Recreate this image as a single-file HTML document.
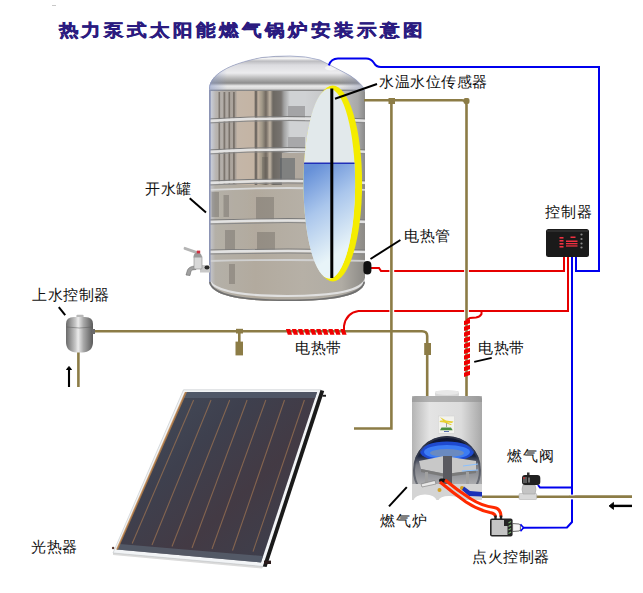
<!DOCTYPE html>
<html><head><meta charset="utf-8">
<style>
html,body{margin:0;padding:0;background:#fff;}
body{width:643px;height:593px;overflow:hidden;position:relative;font-family:"Liberation Sans",sans-serif;}
svg{position:absolute;left:0;top:0;}
.t{font-family:"Liberation Sans",sans-serif;font-size:15px;fill:#111;letter-spacing:0.5px;}
.title{font-family:"Liberation Sans",sans-serif;font-size:17.5px;font-weight:bold;fill:#2b1b80;stroke:#2b1b80;stroke-width:0.45px;letter-spacing:2.35px;}
</style></head>
<body>
<svg width="643" height="593" viewBox="0 0 643 593">
<defs>
  <linearGradient id="tankG" gradientUnits="userSpaceOnUse" x1="209" x2="365" y1="0" y2="0">
    <stop offset="0.000" stop-color="#7888c0"/>
    <stop offset="0.013" stop-color="#c8ccd8"/>
    <stop offset="0.045" stop-color="#b8b4b0"/>
    <stop offset="0.173" stop-color="#a8a098"/>
    <stop offset="0.179" stop-color="#c4b6a8"/>
    <stop offset="0.288" stop-color="#c4b4a4"/>
    <stop offset="0.301" stop-color="#585450"/>
    <stop offset="0.314" stop-color="#c0b0a0"/>
    <stop offset="0.340" stop-color="#a09888"/>
    <stop offset="0.365" stop-color="#706860"/>
    <stop offset="0.391" stop-color="#c0b4a4"/>
    <stop offset="0.410" stop-color="#6c6862"/>
    <stop offset="0.462" stop-color="#787470"/>
    <stop offset="0.481" stop-color="#a0a0a0"/>
    <stop offset="0.519" stop-color="#d0d2d4"/>
    <stop offset="0.615" stop-color="#d0d2d4"/>
    <stop offset="0.840" stop-color="#c0c0c0"/>
    <stop offset="0.955" stop-color="#a8a8a8"/>
    <stop offset="1.000" stop-color="#8a8a8a"/>
  </linearGradient>
  <linearGradient id="domeG" gradientUnits="userSpaceOnUse" x1="0" x2="0" y1="55" y2="91">
    <stop offset="0" stop-color="#d0d0d4"/>
    <stop offset="0.1" stop-color="#f4f4f4"/>
    <stop offset="0.17" stop-color="#bcbcc0"/>
    <stop offset="0.28" stop-color="#dcdce0"/>
    <stop offset="0.5" stop-color="#ececee"/>
    <stop offset="0.66" stop-color="#b4b4b4"/>
    <stop offset="0.78" stop-color="#8c8c8c"/>
    <stop offset="0.86" stop-color="#eaeaea"/>
    <stop offset="0.94" stop-color="#d8d8d8"/>
    <stop offset="1" stop-color="#707070"/>
  </linearGradient>
  <linearGradient id="waterG" gradientUnits="userSpaceOnUse" x1="302" y1="175" x2="350" y2="245">
    <stop offset="0" stop-color="#6690d8"/>
    <stop offset="0.45" stop-color="#aac6ec"/>
    <stop offset="1" stop-color="#e8f4f8"/>
  </linearGradient>
  <linearGradient id="floatG" x1="0" x2="1" y1="0" y2="0">
    <stop offset="0" stop-color="#6a6a6a"/>
    <stop offset="0.35" stop-color="#c8c8c8"/>
    <stop offset="0.45" stop-color="#ececec"/>
    <stop offset="0.65" stop-color="#a8a8a8"/>
    <stop offset="1" stop-color="#5a5a5a"/>
  </linearGradient>
  <linearGradient id="boilerG" x1="0" x2="1" y1="0" y2="0">
    <stop offset="0" stop-color="#b4b4b4"/>
    <stop offset="0.25" stop-color="#e4e4e4"/>
    <stop offset="0.7" stop-color="#dcdcdc"/>
    <stop offset="1" stop-color="#a8a8a8"/>
  </linearGradient>
  <linearGradient id="panelG" gradientUnits="userSpaceOnUse" x1="150" y1="400" x2="300" y2="560">
    <stop offset="0" stop-color="#434a58"/>
    <stop offset="0.3" stop-color="#3e404e"/>
    <stop offset="0.6" stop-color="#433a44"/>
    <stop offset="1" stop-color="#3c404e"/>
  </linearGradient>
  <linearGradient id="chamberG" x1="0" x2="0" y1="0" y2="1">
    <stop offset="0" stop-color="#0c1230"/>
    <stop offset="0.35" stop-color="#1a2440"/>
    <stop offset="0.5" stop-color="#7a7c84"/>
    <stop offset="1" stop-color="#c8c8c8"/>
  </linearGradient>
  <linearGradient id="edgeL" x1="0" x2="1" y1="0" y2="0">
    <stop offset="0" stop-color="#8a9ac8" stop-opacity="0.7"/>
    <stop offset="1" stop-color="#8a9ac8" stop-opacity="0"/>
  </linearGradient>
  <linearGradient id="edgeR" x1="0" x2="1" y1="0" y2="0">
    <stop offset="0" stop-color="#8890b0" stop-opacity="0"/>
    <stop offset="1" stop-color="#8890b0" stop-opacity="0.6"/>
  </linearGradient>
  <linearGradient id="tankLow" gradientUnits="userSpaceOnUse" x1="209" x2="365" y1="0" y2="0">
    <stop offset="0" stop-color="#c8cad4"/>
    <stop offset="0.04" stop-color="#b4b0a8"/>
    <stop offset="0.3" stop-color="#b2aa9e"/>
    <stop offset="0.6" stop-color="#b6b0a6"/>
    <stop offset="0.85" stop-color="#b0aca4"/>
    <stop offset="1" stop-color="#8c8a86"/>
  </linearGradient>
  <clipPath id="ellClip"><ellipse cx="329.3" cy="183.6" rx="25.8" ry="95"/></clipPath>
  <clipPath id="tankClip"><path d="M209,90 C209,75 228,64 262,57.5 Q275,56 290,56 Q306,56 320,60 L343,71.8 Q358,79 364.5,90 L365,92 L365,282 C362,299 320,301 287,301 C255,301 212,299 209,282 Z"/></clipPath>
</defs>

<!-- Title -->
<rect x="52" y="5" width="4" height="1" fill="#c8c8c8"/>
<text class="title" transform="translate(58.5,36) scale(1.15,1)" x="0" y="0">热力泵式太阳能燃气锅炉安装示意图</text>

<!-- Tank -->
<g id="tank">
  <g clip-path="url(#tankClip)">
    <rect x="205" y="50" width="165" height="260" fill="url(#tankG)"/>
    <rect x="205" y="50" width="165" height="41" fill="url(#domeG)"/>
    <rect x="205" y="50" width="22" height="41" fill="url(#edgeL)"/>
    <rect x="340" y="50" width="27" height="41" fill="url(#edgeR)"/>
    <ellipse cx="331" cy="68" rx="6" ry="2.5" fill="#f8f8f8" opacity="0.8"/>
    <!-- reflections -->
    <g fill="#5a524a" opacity="0.6">
      <rect x="218.5" y="92" width="1.6" height="92"/>
      <rect x="223.5" y="92" width="1.8" height="92"/>
      <rect x="228.5" y="92" width="1.6" height="92"/>
      <rect x="233" y="92" width="1.8" height="92"/>
    </g>
    <rect x="288" y="106" width="17" height="15" fill="#a4a4a6"/>
    <rect x="288" y="137" width="17" height="14" fill="#a8a8aa"/>
    <rect x="282" y="153" width="24" height="32" fill="#b0a89e"/>
    <rect x="280" y="158" width="15" height="22" fill="#5a6068" opacity="0.55"/>
    <rect x="262" y="157" width="6" height="24" fill="#5a5650" opacity="0.35"/>
    <!-- lower sections -->
    <rect x="209" y="185" width="160" height="120" fill="url(#tankLow)"/>
    <g fill="#4a4640" opacity="0.28">
      <rect x="211.5" y="192" width="7.5" height="25"/>
      <rect x="223.5" y="195" width="5.5" height="22"/>
      <rect x="256" y="197" width="18" height="25"/>
      <rect x="225" y="230" width="10" height="20"/>
      <rect x="257" y="232" width="18" height="20"/>
      <rect x="229" y="264" width="6" height="20"/>
    </g>
    <!-- rings -->
    <g fill="none">
      <path d="M208,119 Q288,114 368,119" stroke="#7a7a7a" stroke-width="1"/>
      <path d="M208,121 Q288,116 368,121" stroke="#e2e2e2" stroke-width="2.6"/>
      <path d="M208,123 Q288,118 368,123" stroke="#888888" stroke-width="1"/>
      <path d="M208,150 Q288,145 368,150" stroke="#7a7a7a" stroke-width="1"/>
      <path d="M208,152 Q288,147 368,152" stroke="#e2e2e2" stroke-width="2.6"/>
      <path d="M208,154 Q288,149 368,154" stroke="#888888" stroke-width="1"/>
      <path d="M208,181 Q288,177 368,181" stroke="#7a7a7a" stroke-width="1"/>
      <path d="M208,183 Q288,179 368,183" stroke="#e2e2e2" stroke-width="2.6"/>
      <path d="M208,185 Q288,181 368,185" stroke="#888888" stroke-width="1"/>
      <path d="M208,220 Q288,217 368,220" stroke="#7a7a7a" stroke-width="1"/>
      <path d="M208,222 Q288,219 368,222" stroke="#e2e2e2" stroke-width="2.6"/>
      <path d="M208,224 Q288,221 368,224" stroke="#888888" stroke-width="1"/>
      <path d="M208,250 Q288,248 368,250" stroke="#7a7a7a" stroke-width="1"/>
      <path d="M208,252 Q288,250 368,252" stroke="#e2e2e2" stroke-width="2.6"/>
      <path d="M208,254 Q288,252 368,254" stroke="#888888" stroke-width="1"/>
      <path d="M208,190 Q288,186 368,190" stroke="#d8d8d8" stroke-width="1.8"/>
      <path d="M208,261 Q288,259 368,261" stroke="#d0d0d0" stroke-width="1.8"/>
      <path d="M208,278 C212,294 255,296 287,296 C320,296 362,294 366,278" stroke="#e0e0e0" stroke-width="2.2"/>
      <path d="M208,282 C212,300 255,302 287,302 C320,302 362,300 366,282" stroke="#707070" stroke-width="5"/>
    </g>
    <path d="M209.8,90 L209.8,282" stroke="#8c94b4" stroke-width="1.6"/>
  </g>
  <path d="M209.5,89 C209.5,75 228,64 262,57.5 Q275,56 290,56 Q306,56 320,60 L343,71.8 Q358,79 364.5,89" fill="none" stroke="#8a96c0" stroke-width="0.8" opacity="0.8"/>
  <!-- faucet -->
  <path d="M184.5,246.8 L199.5,252 L198.5,254.8 L183.8,249.6 Q183,248 184.5,246.8 Z" fill="#b4b4b4"/>
  <path d="M195,266 Q189,266.5 187.5,270 L186,275 L190,275.5 L191,271 Q192,269.5 196,269.5 Z" fill="#a0a0a0" stroke="#6a6a6a" stroke-width="0.6"/>
  <rect x="200" y="265" width="10" height="7.5" fill="#c8c8c8"/>
  <ellipse cx="207" cy="267.5" rx="2.5" ry="2" fill="#2a2a2a"/>
  <rect x="194" y="256" width="8" height="13" rx="1" fill="#d8d8d8" stroke="#8a8a8a" stroke-width="0.6"/>
  <path d="M193.5,257.5 Q193.5,252.5 197.5,252.5 Q201.8,252.5 201.8,257.5 Z" fill="#9a9a9a"/>
  <rect x="196.8" y="250.6" width="3.4" height="2.8" fill="#d03040"/>
</g>

<!-- sensor ellipse -->
<g id="sensor">
  <ellipse cx="332.8" cy="183.5" rx="29.3" ry="98" fill="#f4ec00"/>
  <ellipse cx="329.3" cy="183.6" rx="25.8" ry="95" fill="#e2e9eb"/>
  <rect x="300" y="163" width="60" height="120" fill="url(#waterG)" clip-path="url(#ellClip)"/>
  <line x1="300" y1="163.3" x2="360" y2="163.3" stroke="#2030b8" stroke-width="1.5" clip-path="url(#ellClip)"/>
  <line x1="331.8" y1="88.5" x2="331.8" y2="278" stroke="#000" stroke-width="3"/>
</g>

<!-- red wires (under pipes) -->
<g fill="none" stroke="#e60000" stroke-width="2">
  <path d="M371,268 L379,268 L381,271 L564,271 L564,257"/>
  <path d="M344,330 L344,326 Q346,313 358.5,311 L568,311 L568,257"/>
</g>
<g fill="#fff">
  <rect x="389.4" y="269" width="4.8" height="4"/>
  <rect x="464.1" y="269" width="4.8" height="4"/>
  <rect x="389.4" y="309" width="4.8" height="4"/>
  <rect x="464.1" y="309" width="4.8" height="4"/>
</g>
<!-- pipes -->
<g fill="none" stroke="#8c7c46" stroke-width="2.6">
  <path d="M364,100.3 L462,100.3 Q466.5,100.3 466.5,105 L466.5,396"/>
  <path d="M391.4,100.3 L391.4,428.5 L354,428.5"/>
  <path d="M93,331.3 L422,331.3 Q427.2,331.3 427.2,336 L427.2,396"/>
  <path d="M78.4,351 L78.4,387"/>
  <path d="M481,496.7 L632,496.7"/>
</g>
<rect x="388.5" y="98" width="6.5" height="6" fill="#8c7c46"/>
<rect x="463.5" y="98" width="6" height="6" rx="2" fill="#8c7c46"/>
<rect x="236" y="328.8" width="7" height="4.7" fill="#8c7c46"/>
<rect x="238" y="333" width="2.6" height="9" fill="#8c7c46"/>
<rect x="235.5" y="341.6" width="7.5" height="13.8" fill="#8c7c46"/>
<rect x="424.2" y="343" width="6.8" height="12" fill="#8c7c46"/>

<!-- red wires -->
<path d="M481.5,311 L481.5,314 Q480,317 476,317.5 L470,318 L466.5,320" fill="none" stroke="#e60000" stroke-width="2"/>

<path d="M285.9,329 L290.2,329 L292.1,334.8 L287.8,334.8 Z M291.9,329 L296.2,329 L298.1,334.8 L293.8,334.8 Z M298.0,329 L302.3,329 L304.2,334.8 L299.9,334.8 Z M304.1,329 L308.4,329 L310.2,334.8 L305.9,334.8 Z M310.1,329 L314.4,329 L316.3,334.8 L312.0,334.8 Z M316.2,329 L320.5,329 L322.4,334.8 L318.1,334.8 Z M322.2,329 L326.5,329 L328.4,334.8 L324.1,334.8 Z M328.3,329 L332.6,329 L334.5,334.8 L330.2,334.8 Z M334.3,329 L338.6,329 L340.5,334.8 L336.2,334.8 Z M340.4,329 L344.7,329 L346.6,334.8 L342.3,334.8 Z" fill="#f00000"/>
<path d="M464,321.0 L470,319.0 L470,323.2 L464,325.2 Z M464,326.8 L470,324.8 L470,328.9 L464,330.9 Z M464,332.5 L470,330.5 L470,334.7 L464,336.7 Z M464,338.2 L470,336.2 L470,340.4 L464,342.4 Z M464,344.0 L470,342.0 L470,346.2 L464,348.2 Z M464,349.8 L470,347.8 L470,351.9 L464,353.9 Z M464,355.5 L470,353.5 L470,357.7 L464,359.7 Z M464,361.2 L470,359.2 L470,363.4 L464,365.4 Z M464,367.0 L470,365.0 L470,369.2 L464,371.2 Z M464,372.8 L470,370.8 L470,374.9 L464,376.9 Z" fill="#f00000"/>
<!-- black pill -->
<rect x="363.4" y="261" width="8" height="13.5" rx="4" fill="#111"/>

<!-- blue wires -->
<g fill="none" stroke="#0000ee" stroke-width="2">
  <path d="M328.8,65.4 Q331,58.4 338,58.4 L366,58.4 Q371,58.4 374,63 Q376,67 381,67 L599,67 L599,271 L576,271 L576,257"/>
  <path d="M572,257 L572,522 L567,527.5 L523,527.8"/>
  <path d="M572,487.5 L540,487.5 L538,485"/>
</g>

<!-- controller -->
<rect x="546" y="229" width="43" height="28" rx="2.5" fill="#1a1a1a"/>
<rect x="547" y="230" width="41" height="2" fill="#3a3a3a" opacity="0.6"/>
<g fill="#f03040">
  <rect x="559.5" y="237" width="4" height="1.6"/>
  <rect x="559.5" y="240" width="4" height="1.6"/>
  <rect x="559.5" y="243" width="4" height="1.6"/>
  <rect x="559.5" y="246" width="4" height="1.6"/>
  <rect x="570.5" y="236.5" width="5" height="1.5"/>
  <rect x="566" y="240.5" width="11.5" height="1.5"/>
  <rect x="566" y="243" width="11.5" height="1.3"/>
  <rect x="566" y="245.3" width="11.5" height="1.3"/>
</g>
<g fill="#8a8a8a">
  <circle cx="581.5" cy="234.5" r="1.1"/>
  <circle cx="581.5" cy="239" r="1.1"/>
  <circle cx="581.5" cy="243.5" r="1.1"/>
  <circle cx="581.5" cy="247.5" r="1.1"/>
</g>

<!-- float valve -->
<rect x="76.4" y="314.7" width="7.2" height="4" rx="1" fill="#b8b8b8"/>
<path d="M66,324 Q66,317 74,317 L85,317 Q93,317 93,324 L93,342 Q93,352 82,352.5 L77,352.5 Q66,352 66,342 Z" fill="url(#floatG)"/>
<path d="M66.5,327 Q79.5,329 92.5,327" stroke="#5a5a5a" stroke-width="0.7" fill="none" opacity="0.7"/>
<rect x="92" y="329" width="3" height="5" fill="#6a6a6a"/>
<!-- arrows -->
<path d="M69,387 L69,369" stroke="#000" stroke-width="2.1"/>
<path d="M66.5,369.5 L69,366.5 L71.5,369.5 Z" fill="#000" stroke="#000" stroke-width="1" stroke-linejoin="round"/>
<path d="M632,505.9 L612,505.9" stroke="#000" stroke-width="2.4"/>
<path d="M613.5,502.4 L609,505.9 L613.5,509.4 Z" fill="#000" stroke="#000" stroke-width="0.8" stroke-linejoin="round"/>

<!-- solar panel -->
<path d="M183.5,389.8 L321,389.8 L263.5,566.5 L113,553 Z" fill="#f2f4f6" stroke="#c0c4c8" stroke-width="0.6"/>
<path d="M320.5,390 L324.2,391 L266.6,567 L262.8,566.5 Z" fill="#1a1a1a"/>
<rect x="322.4" y="394.8" width="3.6" height="1.9" fill="#1a1a1a"/>
<rect x="264" y="560.6" width="7" height="3.4" fill="#2a1a1a"/>
<circle cx="113.1" cy="548" r="1.2" fill="#5a3a30"/>
<path d="M113,553 L263.5,566.5 L262,568.5 L113,555 Z" fill="#b8b8b8" opacity="0.5"/>
<path d="M185.5,392 L317.1,392 L261,562.5 L116.8,549.5 Z" fill="url(#panelG)"/>
<path d="M185.5,392 L317.1,392 L315.2,398 L182.7,398 Z" fill="#566070" opacity="0.7"/>
<path d="M119.5,544 L262.8,556 L261,562.5 L116.8,549.5 Z" fill="#5e6876" opacity="0.65"/>
<path d="M184.8,392 L187,392 L118,549.5 L116,549.5 Z" fill="#c88848" opacity="0.75"/>
<g stroke="#9a7252" stroke-width="1.1" opacity="0.75">
  <line x1="193.6" y1="400" x2="132.2" y2="543.5"/>
  <line x1="211" y1="400" x2="152" y2="545"/>
  <line x1="229.7" y1="400" x2="172" y2="546.5"/>
  <line x1="247.1" y1="400" x2="192" y2="548"/>
  <line x1="265.8" y1="400" x2="212" y2="549"/>
  <line x1="284.5" y1="400" x2="232.5" y2="550.5"/>
  <line x1="304.4" y1="400" x2="253" y2="551.6"/>
</g>

<!-- boiler -->
<rect x="435" y="391" width="24" height="6" rx="2" fill="#d8d8d8"/>
<path d="M412,399 Q412,396 416,396 L478,396 Q482,396 482,399 L482,500 L412,500 Z" fill="url(#boilerG)"/>
<rect x="412" y="396" width="70" height="6" fill="#909090" opacity="0.6"/>
<ellipse cx="447" cy="392.5" rx="12" ry="2.5" fill="#e8e8e8"/>
<rect x="438.3" y="416" width="16.2" height="17.3" fill="#f2f2ee" stroke="#d0d0d0" stroke-width="0.5"/>
<path d="M440,417 L446,420.5 L453.5,421.5 L452,423 L447,422.5 L452,424.5 L450.5,425 L444,422.5 L439.5,422 L440.5,420.5 L443,420.5 Z" fill="#e6d030"/>
<rect x="446" y="423" width="1" height="4" fill="#a0a0a0"/>
<path d="M440,430.3 L441.5,427.5 L451,427.5 L452.7,430.3 Z" fill="#4a9040"/>
<rect x="444" y="431" width="5" height="1" fill="#5a70b0"/>
<clipPath id="boilClip"><path d="M413,470 A34,34 0 0 1 481,470 L481,488 L413,488 Z"/></clipPath>
<g clip-path="url(#boilClip)">
  <rect x="410" y="435" width="75" height="60" fill="url(#chamberG)"/>
  <ellipse cx="447" cy="451.5" rx="27" ry="10" fill="#1e4ad0"/>
  <ellipse cx="447" cy="452" rx="23" ry="7" fill="#3c7cf4"/>
  <ellipse cx="447" cy="453" rx="17" ry="4" fill="#6a8ac0"/>
  <path d="M419,461 L444,456 L476,461 L476,470 L446,474 L421,469 Z" fill="#c8c8c8"/>
  <path d="M421,469 L446,474 L476,470 L476,473 L446,477 L421,472 Z" fill="#7a7a7a"/>
  <rect x="443" y="456" width="9" height="28" fill="#5a5a60"/>
  <rect x="425" y="472" width="3" height="14" fill="#a0a0a0"/>
  <rect x="466" y="472" width="3" height="14" fill="#a0a0a0"/>
  <path d="M463,466 L478,464 M462,471 L478,470" stroke="#8ac0ff" stroke-width="1.2"/>
  <circle cx="447" cy="470" r="33" fill="none" stroke="#404450" stroke-width="2" opacity="0.6"/>
</g>
<path d="M412,484 L482,484 L482,500 L412,500 Z" fill="#d4d4d4"/>
<path d="M413,501 Q415,494.5 425,494.5 Q435,494.5 437,501 Z M438,501 Q440,496 449,496 Q459,496 461,501 Z" fill="#ffffff"/>
<path d="M421,484 L435,480.5 L436,484 L422,487 Z" fill="#e8e8e8" stroke="#666" stroke-width="0.5"/>
<circle cx="439.5" cy="490" r="2" fill="#d4a020"/>
<circle cx="462" cy="488" r="2" fill="#d4a020"/>
<rect x="439" y="478.5" width="6.5" height="4" rx="2" fill="#111"/>
<path d="M464,486.5 L470,491 L482,492 L482,496.5 L469,496 L462,490 Z" fill="#1a30b8"/>

<!-- red wires from boiler to ignition -->
<g fill="none" stroke="#ff2a00" stroke-width="3">
  <path d="M440,482 Q452,492 466,502 Q478,510 490,512.5 Q495.5,513.5 495.5,517"/>
  <path d="M445,480 Q457,490 471,499 Q482,506 494,507.5 Q501,508.5 501,517"/>
</g>

<!-- gas valve -->
<rect x="569.5" y="494.6" width="5" height="4.8" fill="#fff"/>
<path d="M569,496.7 L632,496.7" stroke="#8c7c46" stroke-width="2.6"/>
<rect x="519" y="493.5" width="17.7" height="6" rx="1" fill="#d8d8d8" stroke="#a8a8a8" stroke-width="0.5"/>
<path d="M523,485 L535,485 Q537,489 535,494 L523,494 Q521,489 523,485 Z" fill="#c4c4c4" stroke="#9a9a9a" stroke-width="0.5"/>
<rect x="522" y="475" width="18.3" height="10" rx="3" fill="#202020"/>
<rect x="523" y="477" width="4" height="6" fill="#6a6a6a" opacity="0.8"/>
<rect x="528" y="477.5" width="2" height="5" fill="#8a8a8a" opacity="0.8"/>
<rect x="527" y="472.5" width="2.5" height="2.5" fill="#333"/>
<circle cx="524" cy="478" r="0.9" fill="#d03030"/>
<!-- ignition controller -->
<rect x="494.3" y="515.5" width="2.4" height="4" fill="#222"/>
<rect x="499.8" y="515.5" width="2.4" height="4" fill="#222"/>
<rect x="490" y="518.6" width="22.6" height="17.9" rx="2" fill="#262626"/>
<path d="M491.6,520 L504,520 L504,526 L507.5,526 L507.5,535 L491.6,535 Z" fill="#c4c4c4"/>
<g stroke="#7ab070" stroke-width="1.2">
  <line x1="508.5" y1="523" x2="511" y2="521.5"/>
  <line x1="508.5" y1="526.5" x2="511" y2="525"/>
  <line x1="508.5" y1="530" x2="511" y2="528.5"/>
  <line x1="508.5" y1="533.5" x2="511" y2="532"/>
</g>
<path d="M512.6,523.5 L519,524 L520.4,525 L520.4,530 L519,531 L512.6,531.5 Z" fill="#f4f4f4" stroke="#333" stroke-width="0.7"/>
<path d="M520.5,524.3 L523.5,527.8 L520.5,531.2" stroke="#0000ee" stroke-width="1.6" fill="none"/>
<!-- label ticks -->
<g stroke="#000" stroke-width="2">
  <line x1="335" y1="98.8" x2="377" y2="84"/>
  <line x1="189.7" y1="198.3" x2="206" y2="212.5"/>
  <line x1="370.5" y1="259" x2="400.4" y2="240"/>
  <line x1="58.8" y1="307.2" x2="65.2" y2="315.2"/>
  <line x1="474.2" y1="361.9" x2="491.7" y2="357.9"/>
  <line x1="389" y1="506.4" x2="406.8" y2="487.1"/>
</g>

<!-- labels -->
<text class="t" x="379" y="87">水温水位传感器</text>
<text class="t" x="145" y="194">开水罐</text>
<text class="t" x="404" y="241">电热管</text>
<text class="t" style="letter-spacing:1.2px" x="545" y="217">控制器</text>
<text class="t" x="32" y="300.2">上水控制器</text>
<text class="t" x="295" y="353">电热带</text>
<text class="t" x="478" y="353">电热带</text>
<text class="t" style="letter-spacing:1.2px" x="507" y="461">燃气阀</text>
<text class="t" style="letter-spacing:1.2px" x="380" y="526">燃气炉</text>
<text class="t" x="472" y="562">点火控制器</text>
<text class="t" x="31" y="552">光热器</text>
</svg>
</body></html>
